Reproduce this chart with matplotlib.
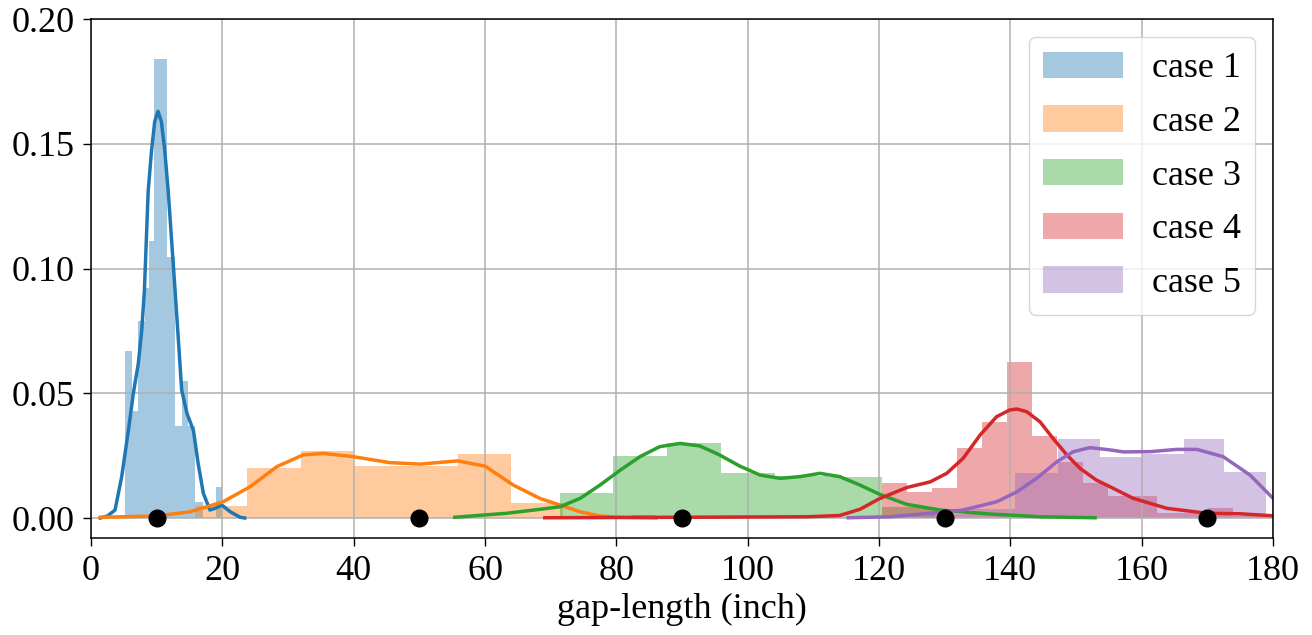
import matplotlib
matplotlib.use("Agg")
import matplotlib.pyplot as plt
import numpy as np
from matplotlib import rcParams

rcParams['font.family'] = ['Liberation Serif', 'DejaVu Serif']
rcParams['xtick.labelsize'] = 26
rcParams['ytick.labelsize'] = 26

labels = ['case 1', 'case 2', 'case 3', 'case 4', 'case 5']
colors = ['#1f77b4', '#ff7f0e', '#2ca02c', '#d62728', '#9467bd']

# histogram bins (edges) and densities
edges_1 = [5.2, 6.2, 7.2, 8.2, 8.8, 9.6, 11.6, 12.8, 13.8, 14.8, 15.8, 17.0, 19.1, 20.0]
dens_1 = [0.067, 0.043, 0.079, 0.092, 0.111, 0.184, 0.1045, 0.037, 0.055, 0.037, 0.0065, 0.0, 0.0125]

edges_2 = [15.8, 23.8, 31.9, 39.9, 47.9, 55.9, 63.9, 71.9]
dens_2 = [0.005, 0.0202, 0.0268, 0.0208, 0.0208, 0.0255, 0.006]

edges_3 = [71.4, 79.5, 87.7, 95.9, 104.2, 112.3, 120.4, 128.5]
dens_3 = [0.0099, 0.0248, 0.0302, 0.0182, 0.0168, 0.0166, 0.0045]

edges_4 = [82.2, 86.0, 120.4, 124.2, 128.0, 131.9, 135.7, 139.5, 143.3, 147.1,
           151.0, 154.8, 158.6, 162.4, 166.2, 170.1, 173.9, 177.7, 181.5]
dens_4 = [0.0012, 0.0, 0.0139, 0.0105, 0.0119, 0.0282, 0.0383, 0.0627, 0.0329,
          0.0226, 0.0139, 0.0088, 0.0088, 0.0021, 0.0021, 0.0039, 0.001, 0.001]

edges_5 = [121.2, 127.7, 134.2, 140.7, 147.3, 153.6, 160.1, 166.4, 172.6, 178.9]
dens_5 = [0.001, 0.0015, 0.0035, 0.0179, 0.0315, 0.0246, 0.0258, 0.0315, 0.0186]

# kde curves, points
kde_x_1 = [1.4, 2.5, 3.65, 4.67, 5.68, 6.44, 7.2, 7.72, 8.12, 8.7, 9.2, 9.7, 10.2,
           10.7, 11.2, 11.75, 12.3, 12.8, 13.3, 13.8, 14.6, 15.6, 16.3, 17.1, 18.1,
           18.9, 19.9, 21.2, 22.7, 23.4]
kde_y_1 = [0.0, 0.0008, 0.0032, 0.0166, 0.035, 0.050, 0.062, 0.0753, 0.091, 0.131,
           0.147, 0.159, 0.163, 0.159, 0.148, 0.131, 0.110, 0.091, 0.0713, 0.0513,
           0.042, 0.035, 0.022, 0.0099, 0.0032, 0.0039, 0.0052, 0.0025, 0.0003, 0.0]

kde_x_2 = [1.4, 10.0, 15.1, 20.1, 24.2, 28.3, 32.3, 35.4, 39.9, 45.5, 50.1, 55.8,
           60.0, 64.3, 68.4, 71.4, 74.5, 77.5, 80.5, 86.0]
kde_y_2 = [0.0003, 0.0008, 0.0025, 0.0065, 0.0125, 0.0206, 0.0253, 0.0259, 0.0246,
           0.0222, 0.0216, 0.0229, 0.0208, 0.0132, 0.0078, 0.0052, 0.0025, 0.0008,
           0.0003, 0.0]

kde_x_3 = [55.4, 63.3, 68.4, 71.4, 74.5, 77.5, 80.6, 83.6, 86.6, 89.7, 92.7, 95.7,
           98.8, 101.9, 104.9, 108.0, 111.0, 114.0, 117.1, 120.1, 124.2, 129.3,
           136.9, 144.5, 152.9]
kde_y_3 = [0.0003, 0.0019, 0.0035, 0.0045, 0.0079, 0.0132, 0.0192, 0.0246, 0.0286,
           0.0299, 0.0289, 0.0253, 0.0208, 0.0172, 0.0159, 0.0166, 0.0179, 0.0166,
           0.0132, 0.0095, 0.0055, 0.0032, 0.0016, 0.0005, 0.0001]

kde_x_4 = [69.1, 90.0, 109.0, 114.0, 117.1, 120.1, 124.2, 127.8, 130.3, 132.8,
           135.4, 137.9, 139.9, 141.0, 142.5, 144.5, 146.5, 148.6, 150.6, 153.1,
           155.2, 158.7, 163.8, 169.9, 175.0, 180.0]
kde_y_4 = [0.0001, 0.0003, 0.0005, 0.001, 0.0035, 0.0078, 0.0122, 0.0145, 0.0179,
           0.0239, 0.0333, 0.0406, 0.0433, 0.0437, 0.0426, 0.0386, 0.0319, 0.0253,
           0.0199, 0.0152, 0.0125, 0.0079, 0.0039, 0.0019, 0.0017, 0.0009]

kde_x_5 = [115.3, 121.7, 127.8, 132.8, 137.9, 141.0, 144.0, 147.1, 149.6, 152.1,
           155.2, 157.2, 161.3, 165.3, 168.4, 172.4, 176.5, 180.0]
kde_y_5 = [0.0001, 0.0005, 0.0019, 0.0032, 0.0065, 0.0105, 0.0159, 0.0226, 0.0266,
           0.0282, 0.0273, 0.0265, 0.0266, 0.0275, 0.0275, 0.0246, 0.0172, 0.0079]

# true gap lengths of the five cases
targets = [10, 50, 90, 130, 170]

hists = [(edges_1, dens_1), (edges_2, dens_2), (edges_3, dens_3),
         (edges_4, dens_4), (edges_5, dens_5)]
kdes = [(kde_x_1, kde_y_1), (kde_x_2, kde_y_2), (kde_x_3, kde_y_3),
        (kde_x_4, kde_y_4), (kde_x_5, kde_y_5)]

fig, ax = plt.subplots(figsize=(13.12, 6.35), dpi=100)
fig.subplots_adjust(left=0.0694, right=0.9703, top=0.970, bottom=0.1528)

for (edges, dens), (kx, ky), c, lab in zip(hists, kdes, colors, labels):
    ax.stairs(dens, edges, fill=True, color=c, alpha=0.4, linewidth=0, label=lab)
    ax.plot(kx, ky, color=c, lw=2.5, solid_joinstyle='round')

ax.plot(targets, np.zeros(len(targets)), 'o', color='black', markersize=12, zorder=5)

ax.set_xlim(0, 180)
ax.set_ylim(-0.008, 0.2)
ax.set_xticks(np.arange(0, 181, 20))
ax.set_yticks([0.0, 0.05, 0.10, 0.15, 0.20])
ax.set_yticklabels(['0.00', '0.05', '0.10', '0.15', '0.20'])
ax.tick_params(length=6, width=1, pad=6)
for s in ax.spines.values():
    s.set_linewidth(1.1)
ax.grid(color='#b0b0b0', linewidth=1.1)
ax.set_xlabel('gap-length (inch)', fontsize=26)
ax.legend(loc='upper right', fontsize=26, handlelength=2.2, handleheight=0.75,
          labelspacing=0.55)

plt.savefig('out.png', dpi=100)
